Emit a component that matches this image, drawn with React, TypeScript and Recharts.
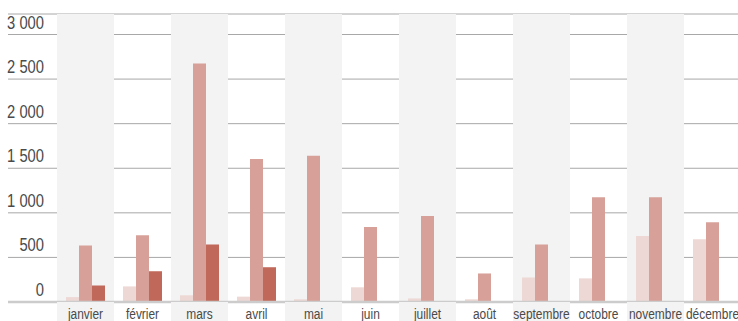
import { BarChart, Bar, XAxis, YAxis, CartesianGrid, ReferenceArea, ReferenceLine } from "recharts";

const mois = [
  "janvier", "février", "mars", "avril", "mai", "juin",
  "juillet", "août", "septembre", "octobre", "novembre", "décembre",
];
const serieA = [55, 175, 75, 60, 30, 165, 40, 30, 275, 265, 740, 705];
const serieB = [635, 750, 2675, 1605, 1640, 840, 965, 320, 645, 1175, 1175, 895];
const serieC = [185, 345, 645, 390, 0, 0, 0, 0, 0, 0, 0, 0];
const graduations = [0, 500, 1000, 1500, 2000, 2500, 3000];

const data = mois.map((m, i) => ({ mois: m, a: serieA[i], b: serieB[i], c: serieC[i] }));

// pas de police étroite installée : on resserre Liberation Sans horizontalement
const FONT = "'Liberation Sans', Arial, sans-serif";
const BANDE = "#f3f3f3";
const TEXTE = "#4a4a4a";

// espace comme séparateur de milliers : 3 000
const fmt = (v: number) => String(v).replace(/\B(?=(\d{3})+(?!\d))/g, " ");

function YTick({ y, payload }: any) {
  return (
    <text
      transform={`translate(44, ${y - 6}) scale(0.82, 1)`}
      textAnchor="end"
      fontSize={18}
      fill={TEXTE}
      fontFamily={FONT}
    >
      {fmt(payload.value)}
    </text>
  );
}

// libellé du mois + prolongement de la bande grise sous l'axe
function XTick({ x, y, payload, index }: any) {
  return (
    <g>
      {index % 2 === 0 && <rect x={x - 28.5} y={y} width={57} height={20} fill={BANDE} />}
      <text
        transform={`translate(${x}, ${y + 16.5}) scale(0.77, 1)`}
        textAnchor="middle"
        fontSize={15.5}
        fill={TEXTE}
        fontFamily={FONT}
      >
        {payload.value}
      </text>
    </g>
  );
}

export default function App() {
  return (
    <div style={{ width: 738, height: 321, overflow: "hidden" }}>
      <style>{`body{margin:0}`}</style>
      <BarChart
        width={741}
        height={321}
        data={data}
        margin={{ top: 14, right: 0, left: 8, bottom: 0 }}
        barSize={13}
        barGap={0}
      >
        {mois
          .filter((_, i) => i % 2 === 0)
          .map((m) => (
            <ReferenceArea key={m} x1={m} x2={m} fill={BANDE} fillOpacity={1} stroke="none" ifOverflow="visible" />
          ))}
        <CartesianGrid vertical={false} stroke="#a8a8a8" />
        <XAxis
          dataKey="mois"
          height={19}
          padding={{ left: 49, right: 0 }}
          axisLine={false}
          tickLine={false}
          tickSize={0}
          tickMargin={0}
          interval={0}
          tick={(p: any) => <XTick {...p} />}
        />
        <YAxis
          mirror
          domain={[0, 3230]}
          ticks={graduations}
          allowDataOverflow
          axisLine={false}
          tickLine={false}
          tick={(p: any) => <YTick {...p} />}
        />
        <Bar dataKey="a" fill="#eed8d5" isAnimationActive={false} />
        <Bar dataKey="b" fill="#d7a098" isAnimationActive={false} />
        <Bar dataKey="c" fill="#c0685a" isAnimationActive={false} />
        <ReferenceLine y={0} stroke="#cccccc" strokeWidth={2.5} />
      </BarChart>
    </div>
  );
}
